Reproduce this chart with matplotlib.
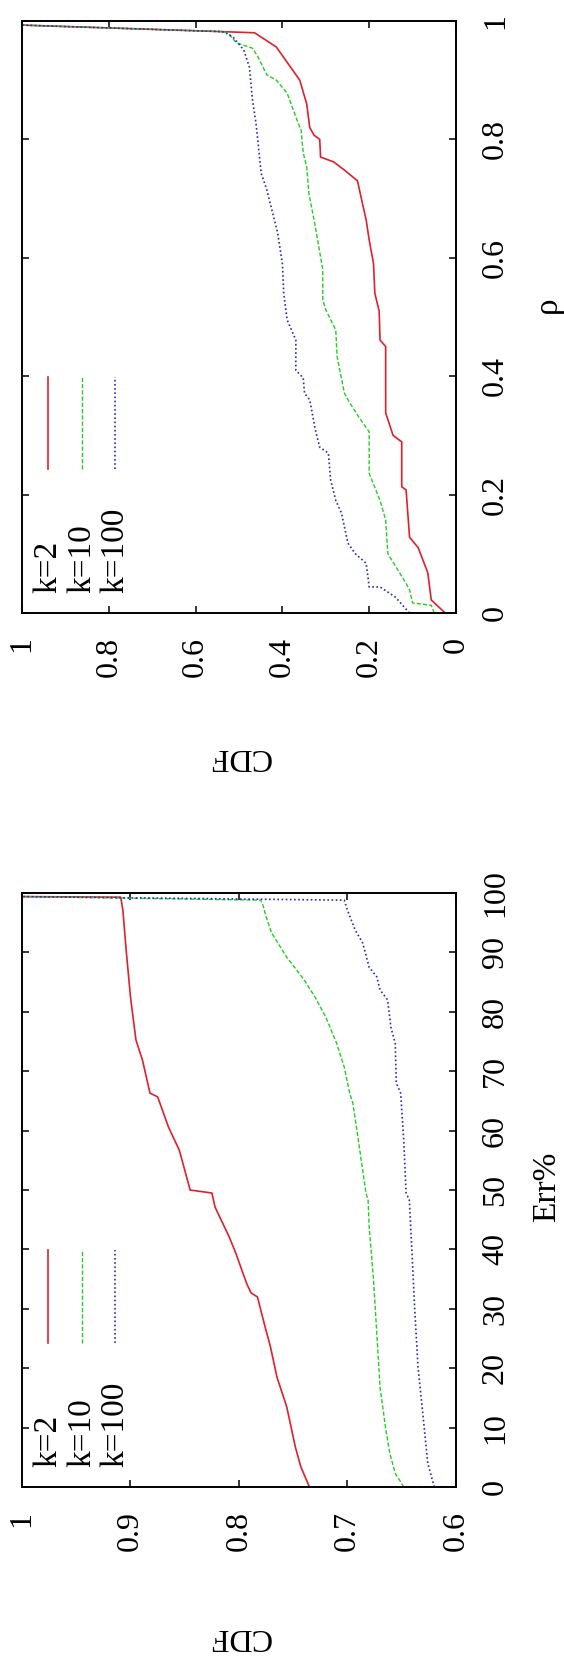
import matplotlib
matplotlib.use("Agg")
import matplotlib.pyplot as plt

plt.rcParams["font.family"] = ["Liberation Serif", "DejaVu Serif"]

# top panel: CDF of rho
RHO_TICKS = [0, 0.2, 0.4, 0.6, 0.8, 1]
RHO_CDF_TICKS = [0, 0.2, 0.4, 0.6, 0.8, 1]
rho_k2 = [0.0, 0.022, 0.068, 0.11, 0.128, 0.208, 0.213, 0.289, 0.30, 0.338, 0.45, 0.461, 0.51,
          0.54, 0.59, 0.63, 0.664, 0.69, 0.73, 0.748, 0.762, 0.77, 0.80, 0.807, 0.82, 0.86,
          0.90, 0.956, 0.98, 0.982, 0.993]
cdf_rho_k2 = [0.025, 0.057, 0.065, 0.087, 0.107, 0.115, 0.125, 0.125, 0.145, 0.162, 0.162, 0.175,
              0.177, 0.187, 0.19, 0.2, 0.207, 0.215, 0.227, 0.257, 0.282, 0.312, 0.314, 0.327,
              0.337, 0.344, 0.36, 0.414, 0.464, 0.54, 1.0]
rho_k10 = [0.0, 0.013, 0.017, 0.039, 0.05, 0.10, 0.157, 0.19, 0.236, 0.306, 0.331, 0.354, 0.371,
           0.433, 0.478, 0.512, 0.529, 0.54, 0.58, 0.652, 0.709, 0.754, 0.777, 0.816, 0.828,
           0.878, 0.90, 0.909, 0.939, 0.954, 0.963, 0.98, 0.982, 0.993]
cdf_rho_k10 = [0.05, 0.057, 0.1, 0.107, 0.115, 0.157, 0.162, 0.175, 0.2, 0.2, 0.224, 0.244, 0.257,
               0.274, 0.277, 0.3, 0.307, 0.307, 0.307, 0.324, 0.339, 0.344, 0.352, 0.357, 0.364,
               0.389, 0.414, 0.436, 0.456, 0.469, 0.506, 0.526, 0.54, 1.0]
rho_k100 = [0.0, 0.027, 0.044, 0.044, 0.084, 0.10, 0.118, 0.169, 0.19, 0.225, 0.27, 0.28, 0.309,
            0.36, 0.371, 0.397, 0.41, 0.461, 0.495, 0.529, 0.54, 0.59, 0.642, 0.715, 0.743,
            0.794, 0.828, 0.867, 0.922, 0.951, 0.973, 0.98, 0.982, 0.993]
cdf_rho_k100 = [0.107, 0.14, 0.175, 0.2, 0.207, 0.232, 0.249, 0.264, 0.277, 0.289, 0.294, 0.314,
                0.324, 0.337, 0.349, 0.352, 0.369, 0.369, 0.389, 0.395, 0.397, 0.40, 0.411, 0.436,
                0.449, 0.456, 0.461, 0.469, 0.476, 0.489, 0.514, 0.531, 0.54, 1.0]

# bottom panel: CDF of Err%
ERR_TICKS = [0, 10, 20, 30, 40, 50, 60, 70, 80, 90, 100]
ERR_CDF_TICKS = [0.6, 0.7, 0.8, 0.9, 1]
err_k2 = [0, 3.4, 6.7, 13.5, 18.5, 23.6, 27, 32, 32.7, 34.3, 39.4, 42.1, 47.1, 49.5, 50, 56.7,
          60.6, 65.7, 66.3, 71.9, 74.7, 75.3, 82.5, 90.4, 97.1, 99.3, 99.4]
cdf_err_k2 = [0.735, 0.743, 0.748, 0.756, 0.765, 0.771, 0.776, 0.783, 0.789, 0.793, 0.803, 0.809,
              0.822, 0.825, 0.845, 0.855, 0.865, 0.875, 0.882, 0.889, 0.894, 0.895, 0.900,
              0.904, 0.907, 0.909, 1.0]
err_k10 = [0, 2.3, 5.7, 10.1, 16.8, 25.9, 34.8, 43.8, 48.3, 49.5, 58.4, 64.6, 66.3, 70.7, 74.7,
           79.1, 82.5, 85.4, 89.2, 93.3, 96, 98, 98.8, 99.4]
cdf_err_k10 = [0.648, 0.656, 0.661, 0.665, 0.670, 0.673, 0.676, 0.680, 0.681, 0.683, 0.690,
               0.695, 0.698, 0.703, 0.710, 0.720, 0.730, 0.740, 0.756, 0.770, 0.775, 0.778,
               0.780, 1.0]
err_k100 = [0, 4, 11.3, 20.2, 29.8, 41.1, 48.3, 49.5, 57.9, 66.3, 68, 74.7, 77.4, 82, 83.7, 85.9,
            87.5, 91.6, 93.8, 97.1, 98.8, 99.4]
cdf_err_k100 = [0.620, 0.626, 0.630, 0.635, 0.638, 0.641, 0.643, 0.646, 0.648, 0.651, 0.655,
                0.656, 0.660, 0.663, 0.670, 0.673, 0.680, 0.686, 0.693, 0.700, 0.703, 1.0]

LABELS = ["k=2", "k=10", "k=100"]
STYLE = [dict(color="#e0202a", lw=1.2, ls="-"),
         dict(color="#22cc22", lw=1.0, ls=(0, (3, 1.5))),
         dict(color="#2a2ac0", lw=1.2, ls=(0, (1, 1.5)))]
FS = 23


def panel(ax, series, xlim, cdf_ticks, yticks, xlabel, xlab_y, cdf_lab_y):
    # plot is drawn rotated: CDF runs right-to-left, the measured value runs upward
    for (yv, cv), st in zip(series, STYLE):
        ax.plot(cv, yv, **st)
    ax.set_xlim(1, xlim)
    ax.set_ylim(yticks[0], yticks[-1])
    ax.set_xticks(cdf_ticks)
    ax.set_xticklabels([f"{t:g}" for t in cdf_ticks], rotation=90, va="top", ha="center")
    ax.set_yticks(yticks)
    ax.set_yticklabels([f"{t:g}" for t in yticks], rotation=90, va="center", ha="left")
    ax.tick_params(axis="both", direction="in", length=5, width=1.1, labelsize=FS,
                   top=True, right=True, left=True, bottom=True,
                   labelleft=False, labelright=True)
    ax.tick_params(axis="x", pad=17)
    ax.tick_params(axis="y", pad=18)
    for s in ax.spines.values():
        s.set_linewidth(1.4)
    ax.text(1.21, xlab_y, xlabel, transform=ax.transAxes, rotation=90,
            ha="center", va="center", fontsize=FS + 1)
    ax.text(0.502, cdf_lab_y, "CDF", transform=ax.transAxes, rotation=180,
            ha="center", va="center", fontsize=FS)
    # key in the lower-left corner, drawn rotated like the rest
    for xk, lab, st in zip([0.060, 0.138, 0.214], LABELS, STYLE):
        ax.text(xk, 0.034, lab, transform=ax.transAxes, rotation=90,
                ha="center", va="bottom", fontsize=FS + 1)
        ax.plot([xk, xk], [0.243, 0.399], transform=ax.transAxes, **st)


fig = plt.figure(figsize=(5.64, 16.63), dpi=100)
ax1 = fig.add_axes([0.039, 0.6314, 0.7695, 0.356])
ax2 = fig.add_axes([0.039, 0.1058, 0.7695, 0.3572])

panel(ax1, [(rho_k2, cdf_rho_k2), (rho_k10, cdf_rho_k10), (rho_k100, cdf_rho_k100)],
      0, RHO_CDF_TICKS, RHO_TICKS, "ρ", 0.52, -0.243)
panel(ax2, [(err_k2, cdf_err_k2), (err_k10, cdf_err_k10), (err_k100, cdf_err_k100)],
      0.6, ERR_CDF_TICKS, ERR_TICKS, "Err%", 0.505, -0.251)

fig.savefig("out.png", dpi=100)
